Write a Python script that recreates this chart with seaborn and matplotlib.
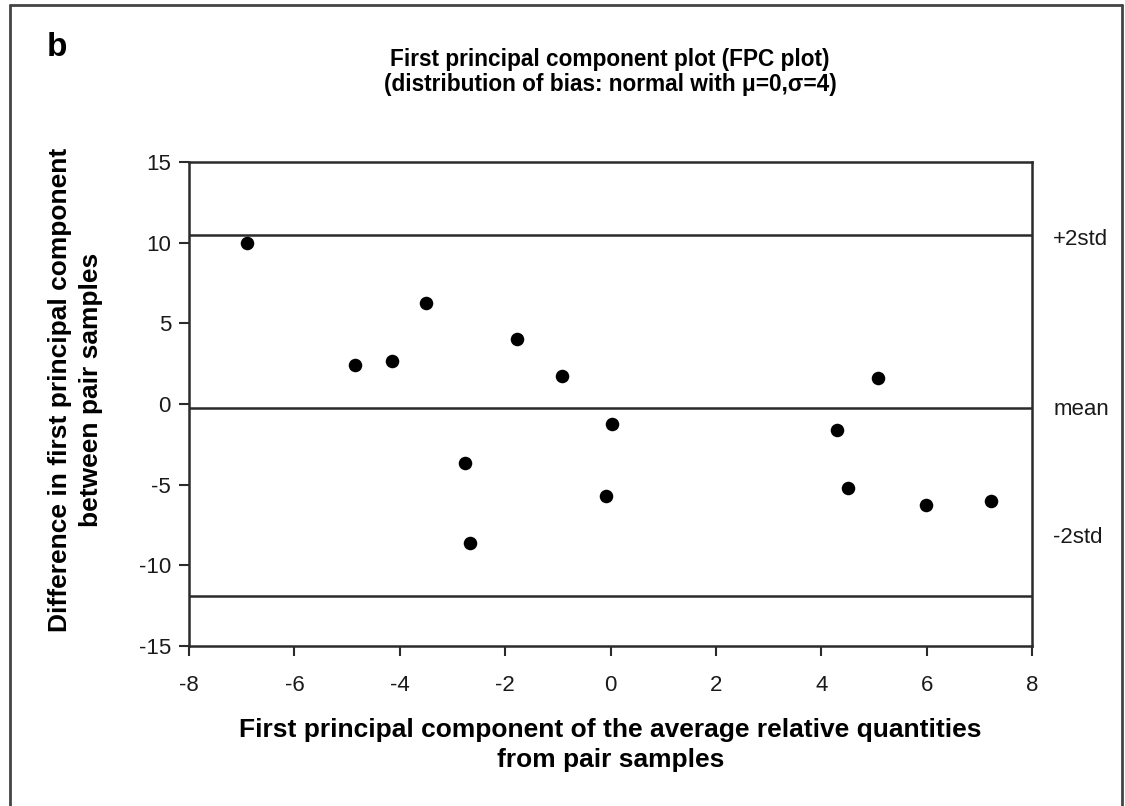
import matplotlib
matplotlib.use("Agg")
import matplotlib.pyplot as plt
import seaborn as sns
import pandas as pd
from matplotlib.lines import Line2D

# | Data |---------------------------------------------------------------------------------------------------|
avg_fpc = [-6.90, -4.85, -4.14, -3.51, -2.76, -2.67, -1.77, -0.92, 0.03, -0.08,
           4.29, 5.07, 4.50, 5.99, 7.23]
diff_fpc = [9.95, 2.42, 2.66, 6.28, -3.64, -8.64, 4.00, 1.73, -1.24, -5.69,
            -1.62, 1.61, -5.19, -6.27, -6.02]

ref_names = ["+2std", "mean", "-2std"]
ref_values = [10.5, -0.25, -11.9]

x_ticks = [-8, -6, -4, -2, 0, 2, 4, 6, 8]
y_ticks = [-15, -10, -5, 0, 5, 10, 15]

title_txt = "First principal component plot (FPC plot)\n(distribution of bias: normal with \u03bc=0,\u03c3=4)"
xlabel_txt = "First principal component of the average relative quantities\nfrom pair samples"
ylabel_txt = "Difference in first principal component\nbetween pair samples"
# |----------------------------------------------------------------------------------------------------------|

sns.set_style("white")
plt.rcParams["font.family"] = ["Liberation Sans", "DejaVu Sans"]
plt.rcParams["text.color"] = "black"
plt.rcParams["axes.labelcolor"] = "black"

DARK = "#2b2b2b"

df = pd.DataFrame({"avg": avg_fpc, "diff": diff_fpc})

fig = plt.figure(figsize=(11.25, 8.06), dpi=100)
ax = fig.add_axes([189 / 1125, 1 - 646 / 806, (1032 - 189) / 1125, (646 - 162) / 806])

# reference lines
for val in ref_values:
    ax.axhline(val, color=DARK, linewidth=1.8, zorder=1)

sns.scatterplot(data=df, x="avg", y="diff", ax=ax, color="black", s=95,
                edgecolor="black", linewidth=0, zorder=3, legend=False)

ax.set_xlim(-8, 8)
ax.set_ylim(-15, 15)
ax.set_xticks(x_ticks)
ax.set_yticks(y_ticks)
ax.set_xticklabels([str(t) for t in x_ticks], fontsize=16)
ax.set_yticklabels([str(t) for t in y_ticks], fontsize=16)
ax.tick_params(axis="both", direction="out", length=7, width=1.5, color=DARK,
               bottom=True, left=True, labelcolor="#1a1a1a", pad=6)
ax.tick_params(axis="x", pad=14)

for side in ["top", "right", "left", "bottom"]:
    ax.spines[side].set_visible(True)
    ax.spines[side].set_color(DARK)
    ax.spines[side].set_linewidth(1.8)

ax.set_xlabel(xlabel_txt, fontsize=19, fontweight="bold", labelpad=16, linespacing=1.32)
ax.set_ylabel(ylabel_txt, fontsize=19, fontweight="bold", linespacing=1.35)
ax.yaxis.set_label_coords(-0.102, 0.53)

# side labels for the reference lines
label_y = [10.2, -0.35, -8.25]
for name, yv in zip(ref_names, label_y):
    ax.text(1.025, yv, name, transform=ax.get_yaxis_transform(), fontsize=16,
            color="#1a1a1a", va="center", ha="left")

fig.text(610 / 1125, 1 - 72 / 806, title_txt, ha="center", va="center",
         fontsize=16.3, fontweight="bold", linespacing=1.1)
fig.text(47 / 1125, 1 - 47 / 806, "b", ha="left", va="center",
         fontsize=24, fontweight="bold")

# outer frame
frame_kw = dict(color="#444444", linewidth=2, transform=fig.transFigure)
fig.add_artist(Line2D([10 / 1125, 10 / 1125], [0, 1 - 5 / 806], **frame_kw))
fig.add_artist(Line2D([10 / 1125, 1122 / 1125], [1 - 5 / 806, 1 - 5 / 806], **frame_kw))
fig.add_artist(Line2D([1122 / 1125, 1122 / 1125], [0, 1 - 5 / 806], **frame_kw))

fig.savefig("out.png", dpi=100, facecolor="white")
